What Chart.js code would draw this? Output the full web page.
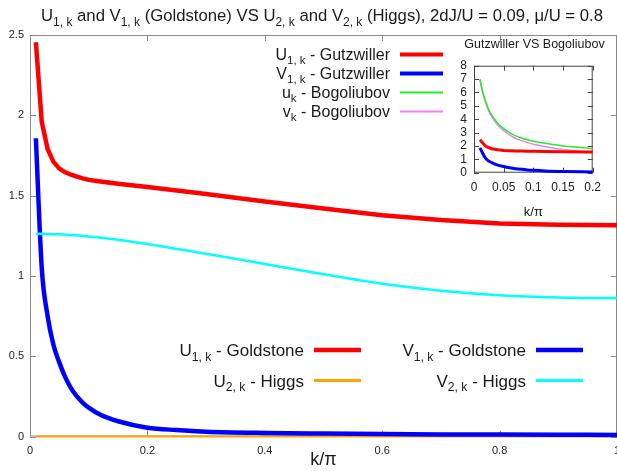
<!DOCTYPE html>
<html><head><meta charset="utf-8">
<script src="https://cdn.jsdelivr.net/npm/chart.js@4/dist/chart.umd.min.js"></script>
<style>
html,body{margin:0;padding:0;background:#fff;}
#wrap{position:relative;width:617px;height:471px;overflow:hidden;}
#main{position:absolute;left:0;top:0;}
#inset{position:absolute;left:440px;top:35px;}
</style></head><body>
<div id="wrap"><canvas id="main" width="617" height="471"></canvas><canvas id="inset" width="177" height="190"></canvas></div>
<script>
// ---- data ----
const k  = [0.01,0.02,0.03,0.04,0.05,0.06,0.07,0.08,0.09,0.1,0.12,0.15,0.2,0.25,0.3,0.4,0.5,0.6,0.7,0.8,0.9,1.0];
const U1 = [2.455,1.96,1.79,1.71,1.668,1.645,1.63,1.618,1.607,1.598,1.588,1.574,1.553,1.532,1.51,1.463,1.42,1.378,1.348,1.327,1.318,1.316];
const V1 = [1.857,1.05,0.75,0.57,0.46,0.37,0.3,0.25,0.21,0.18,0.135,0.095,0.055,0.04,0.03,0.022,0.018,0.015,0.013,0.012,0.011,0.01];
const U2 = [0,0,0,0,0,0,0,0,0,0,0,0,0,0,0,0,0,0,0,0,0,0];
const V2 = [1.262,1.262,1.261,1.26,1.259,1.257,1.255,1.252,1.249,1.245,1.238,1.225,1.198,1.168,1.138,1.074,1.01,0.951,0.908,0.88,0.866,0.862];
const kB = [0.01,0.015,0.02,0.025,0.03,0.04,0.05,0.06,0.07,0.08,0.1,0.12,0.15,0.18,0.2];
const uB = [7.0,6.0,5.3,4.7,4.3,3.7,3.3,3.0,2.75,2.6,2.35,2.2,2.0,1.88,1.8];
const vB = [6.93,5.92,5.2,4.59,4.18,3.56,3.14,2.83,2.56,2.4,2.13,1.96,1.73,1.59,1.5];
const mainXTicks = [0,0.2,0.4,0.6,0.8,1];
const mainYTicks = [0,0.5,1,1.5,2,2.5];
const insetXTicks = [0,0.05,0.1,0.15,0.2];
const insetYTicks = [0,1,2,3,4,5,6,7,8];
const insetKMax = 0.2;

const FONT = "'Liberation Sans', Arial, sans-serif";
const pts = (xs, ys) => xs.map((x,i)=>({x:x, y:ys[i]}));
const ptsUpTo = (xs, ys, m) => pts(xs, ys).filter(p=>p.x<=m+1e-9);

// rich text with subscripts: parts = [[text, isSub], ...]
function partFont(size, sub){ return (sub? Math.round(size*0.72*10)/10 : size) + "px " + FONT; }
function richWidth(ctx, parts, size){
  let w=0; parts.forEach(p=>{ctx.font=partFont(size,p[1]); w+=ctx.measureText(p[0]).width;}); return w;
}
function drawRich(ctx, parts, x, y, size, align, color){
  const w = richWidth(ctx, parts, size);
  let cx = align==='right'? x-w : align==='center'? x-w/2 : x;
  ctx.fillStyle=color; ctx.textBaseline='alphabetic'; ctx.textAlign='left';
  parts.forEach(p=>{
    ctx.font=partFont(size,p[1]);
    ctx.fillText(p[0], cx, y + (p[1]? size*0.28 : 0));
    cx += ctx.measureText(p[0]).width;
  });
}

const frame = {
  id:'frame',
  beforeDatasetsDraw(chart, args, o){
    const {ctx, chartArea:a, scales:{x,y}} = chart;
    ctx.save(); ctx.strokeStyle=o.color; ctx.lineWidth=1;
    ctx.strokeRect(a.left+0.5, a.top+0.5, a.right-a.left-1, a.bottom-a.top-1);
    ctx.beginPath();
    x.ticks.forEach(t=>{const p=Math.round(x.getPixelForValue(t.value))+0.5;
      ctx.moveTo(p,a.bottom); ctx.lineTo(p,a.bottom-o.len); ctx.moveTo(p,a.top); ctx.lineTo(p,a.top+o.len);});
    y.ticks.forEach(t=>{const p=Math.round(y.getPixelForValue(t.value))+0.5;
      ctx.moveTo(a.left,p); ctx.lineTo(a.left+o.len,p); ctx.moveTo(a.right,p); ctx.lineTo(a.right-o.len,p);});
    ctx.stroke(); ctx.restore();
  }
};

const annot = {
  id:'annot',
  afterDraw(chart){
    const ctx = chart.ctx; ctx.save();
    const title = [['U'],['1, k',1],[' and V'],['1, k',1],[' (Goldstone) VS U'],['2, k',1],[' and V'],['2, k',1],[' (Higgs), 2dJ/U = 0.09, \u03bc/U = 0.8']];
    drawRich(ctx, title, 322, 21, 16.7, 'center', '#1a1a1a');
    // inset legend (upper)
    const up = [
      {p:[['U'],['1, k',1],[' - Gutzwiller']], c:'#ff0000', w:4, y:54.5},
      {p:[['V'],['1, k',1],[' - Gutzwiller']], c:'#0000ff', w:4, y:73.5},
      {p:[['u'],['k',1],[' - Bogoliubov']], c:'#22ee22', w:2, y:92.5},
      {p:[['v'],['k',1],[' - Bogoliubov']], c:'#ee82ee', w:2, y:111.5}
    ];
    up.forEach(e=>{
      drawRich(ctx, e.p, 390, e.y+5.5, 16, 'right', '#1a1a1a');
      ctx.strokeStyle=e.c; ctx.lineWidth=e.w; ctx.beginPath(); ctx.moveTo(400,e.y); ctx.lineTo(443,e.y); ctx.stroke();
    });
    const low = [
      {p:[['U'],['1, k',1],[' - Goldstone']], c:'#ff0000', w:4.5, x:304, y:350},
      {p:[['V'],['1, k',1],[' - Goldstone']], c:'#0000ff', w:4.5, x:526, y:350},
      {p:[['U'],['2, k',1],[' - Higgs']], c:'#ffa500', w:3, x:304, y:380.5},
      {p:[['V'],['2, k',1],[' - Higgs']], c:'#00ffff', w:3, x:526, y:380.5}
    ];
    low.forEach(e=>{
      drawRich(ctx, e.p, e.x, e.y+6, 17, 'right', '#1a1a1a');
      ctx.strokeStyle=e.c; ctx.lineWidth=e.w; ctx.beginPath(); ctx.moveTo(e.x+10,e.y); ctx.lineTo(e.x+57,e.y); ctx.stroke();
    });
    ctx.restore();
  }
};

function fixTicks(arr){ return s=>{ s.ticks = arr.map(v=>({value:v})); }; }

new Chart(document.getElementById('main'), {
  type:'line',
  data:{datasets:[
    {data:pts(k,V2), borderColor:'#00ffff', borderWidth:2.5, tension:0.3, cubicInterpolationMode:'monotone'},
    {data:pts(k,U1), borderColor:'#ff0000', borderWidth:4.5, tension:0},
    {data:pts(k,V1), borderColor:'#0000ff', borderWidth:4.5, cubicInterpolationMode:'monotone'},
    {data:pts(k,U2), borderColor:'#ffa500', borderWidth:2, tension:0}
  ].map(d=>Object.assign(d,{pointRadius:0, fill:false, clip:false}))},
  options:{
    responsive:false, animation:false, devicePixelRatio:1,
    layout:{padding:{top:35,left:0,right:0,bottom:0}},
    plugins:{legend:{display:false}, tooltip:{enabled:false}, frame:{color:'#888', len:6}},
    scales:{
      x:{type:'linear', min:0, max:1, afterBuildTicks:fixTicks(mainXTicks),
         grid:{display:false, drawTicks:false}, border:{display:false},
         ticks:{padding:8, color:'#222', font:{family:FONT,size:11}, maxRotation:0, autoSkip:false, callback:v=>String(v)},
         title:{display:true, text:'k/\u03c0', color:'#1a1a1a', font:{family:FONT,size:18}, padding:{top:0,bottom:0}},
         afterFit:s=>{s.height=34.5; s.paddingLeft=0; s.paddingRight=0;}},
      y:{type:'linear', min:0, max:2.5, afterBuildTicks:fixTicks(mainYTicks),
         grid:{display:false, drawTicks:false}, border:{display:false},
         ticks:{padding:6, color:'#222', font:{family:FONT,size:11}, autoSkip:false, callback:v=>String(v)},
         afterFit:s=>{s.width=30; s.paddingTop=0; s.paddingBottom=0;}}
    }
  },
  plugins:[frame, annot]
});

const insetTitle = {
  id:'insetTitle',
  afterDraw(chart){
    const ctx=chart.ctx; ctx.save();
    ctx.font="12.5px "+FONT; ctx.fillStyle='#1a1a1a'; ctx.textAlign='center'; ctx.textBaseline='middle';
    ctx.fillText('Gutzwiller VS Bogoliubov', 94.5, 10);
    ctx.restore();
  }
};

new Chart(document.getElementById('inset'), {
  type:'line',
  data:{datasets:[
    {data:ptsUpTo(k,U1,insetKMax), borderColor:'#ff0000', borderWidth:3, tension:0},
    {data:ptsUpTo(k,V1,insetKMax), borderColor:'#0000ff', borderWidth:3, cubicInterpolationMode:'monotone'},
    {data:pts(kB,uB), borderColor:'#22ee22', borderWidth:1.5, cubicInterpolationMode:'monotone'},
    {data:pts(kB,vB), borderColor:'#ee82ee', borderWidth:1.5, cubicInterpolationMode:'monotone'}
  ].map(d=>Object.assign(d,{pointRadius:0, fill:false, clip:false}))},
  options:{
    responsive:false, animation:false, devicePixelRatio:1,
    layout:{padding:{top:30.7,left:0,right:24.3,bottom:0}},
    plugins:{legend:{display:false}, tooltip:{enabled:false}, frame:{color:'#444', len:5}},
    scales:{
      x:{type:'linear', min:0, max:0.2, afterBuildTicks:fixTicks(insetXTicks),
         grid:{display:false, drawTicks:false}, border:{display:false},
         ticks:{padding:8, color:'#222', font:{family:FONT,size:12}, maxRotation:0, autoSkip:false, callback:v=>String(v)},
         title:{display:true, text:'k/\u03c0', color:'#1a1a1a', font:{family:FONT,size:13}, padding:{top:0,bottom:5}},
         afterFit:s=>{s.height=52.3; s.paddingLeft=0; s.paddingRight=0;}},
      y:{type:'linear', min:0, max:8, afterBuildTicks:fixTicks(insetYTicks),
         grid:{display:false, drawTicks:false}, border:{display:false},
         ticks:{padding:7, color:'#222', font:{family:FONT,size:12}, autoSkip:false, callback:v=>String(v)},
         afterFit:s=>{s.width=34; s.paddingTop=0; s.paddingBottom=0;}}
    }
  },
  plugins:[frame, insetTitle]
});
</script>
</body></html>
